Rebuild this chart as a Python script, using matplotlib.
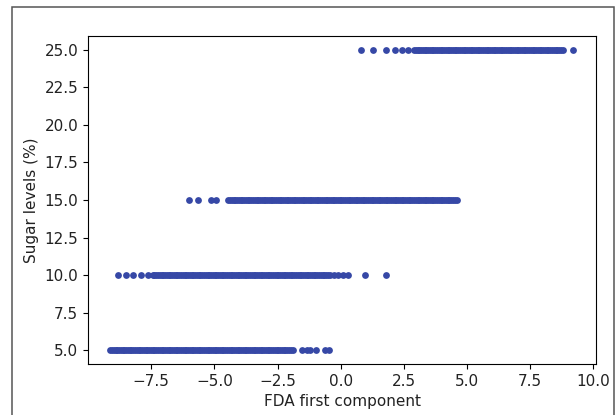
import matplotlib
matplotlib.use("Agg")
import matplotlib.pyplot as plt
import matplotlib.patches as patches

# FDA first component values, one list per sugar level (read off the picture;
# the solid-looking stretches are many samples packed close together)
x_sugar_25 = [0.80, 1.28, 1.79, 2.15, 2.42, 2.66,
              2.90, 2.97, 3.04, 3.11, 3.18, 3.25, 3.32, 3.39, 3.46, 3.53, 3.60,
              3.67, 3.74, 3.81, 3.88, 3.95, 4.02, 4.09, 4.16, 4.23, 4.30, 4.37,
              4.44, 4.51, 4.58, 4.65, 4.72, 4.79, 4.86, 4.93, 5.00, 5.07, 5.14,
              5.21, 5.28, 5.35, 5.42, 5.49, 5.56, 5.63, 5.70, 5.77, 5.84, 5.91,
              5.98, 6.05, 6.12, 6.19, 6.26, 6.33, 6.40, 6.47, 6.54, 6.61, 6.68,
              6.75, 6.82, 6.89, 6.96, 7.03, 7.10, 7.17, 7.24, 7.31, 7.38, 7.45,
              7.52, 7.59, 7.66, 7.73, 7.80, 7.87, 7.94, 8.01, 8.08, 8.15, 8.22,
              8.29, 8.36, 8.43, 8.50, 8.57, 8.64, 8.71, 8.79,
              9.18]
x_sugar_15 = [-6.00, -5.64, -5.13, -4.93,
              -4.45, -4.38, -4.31, -4.24, -4.17, -4.10, -4.03, -3.96, -3.89,
              -3.82, -3.75, -3.68, -3.61, -3.54, -3.47, -3.40, -3.33, -3.26,
              -3.19, -3.12, -3.05, -2.98, -2.91, -2.84, -2.77, -2.70, -2.63,
              -2.56, -2.49, -2.42, -2.35, -2.28, -2.21, -2.14, -2.07, -2.00,
              -1.93, -1.86, -1.79, -1.72, -1.65, -1.58, -1.51, -1.44, -1.37,
              -1.30, -1.23, -1.16, -1.09, -1.02, -0.95, -0.88, -0.81, -0.74,
              -0.67, -0.60, -0.53, -0.46, -0.39, -0.32, -0.25, -0.18, -0.11,
              -0.04, 0.03, 0.10, 0.17, 0.24, 0.31, 0.38, 0.45, 0.52, 0.59, 0.66,
              0.73, 0.80, 0.87, 0.94, 1.01, 1.08, 1.15, 1.22, 1.29, 1.36, 1.43,
              1.50, 1.57, 1.64, 1.71, 1.78, 1.85, 1.92, 1.99, 2.06, 2.13, 2.20,
              2.27, 2.34, 2.41, 2.48, 2.55, 2.62, 2.69, 2.76, 2.83, 2.90, 2.97,
              3.04, 3.11, 3.18, 3.25, 3.32, 3.39, 3.46, 3.53, 3.60, 3.67, 3.74,
              3.81, 3.88, 3.95, 4.02, 4.09, 4.16, 4.23, 4.30, 4.37, 4.44, 4.51,
              4.60]
x_sugar_10 = [-8.80, -8.49, -8.21, -7.89, -7.62,
              -7.44, -7.37, -7.30, -7.23, -7.16, -7.09, -7.02, -6.95, -6.88,
              -6.81, -6.74, -6.67, -6.60, -6.53, -6.46, -6.39, -6.32, -6.25,
              -6.18, -6.11, -6.04, -5.97, -5.90, -5.83, -5.76, -5.69, -5.62,
              -5.55, -5.48, -5.41, -5.34, -5.27, -5.20, -5.13, -5.06, -4.99,
              -4.92, -4.85, -4.78, -4.71, -4.64, -4.57, -4.50, -4.43, -4.36,
              -4.29, -4.22, -4.15, -4.08, -4.01, -3.94, -3.87, -3.80, -3.73,
              -3.66, -3.59, -3.52, -3.45, -3.38, -3.31, -3.24, -3.17, -3.10,
              -3.03, -2.96, -2.89, -2.82, -2.75, -2.68, -2.61, -2.54, -2.47,
              -2.40, -2.33, -2.26, -2.19, -2.12, -2.05, -1.98, -1.91, -1.84,
              -1.77, -1.70, -1.63, -1.56, -1.49, -1.42, -1.35, -1.28, -1.21,
              -1.14, -1.07, -1.00, -0.93, -0.86, -0.79, -0.72, -0.65, -0.58,
              -0.51, -0.42,
              -0.25, -0.11, 0.09, 0.29, 0.96, 1.79]
x_sugar_5 = [-9.12, -9.05, -8.98, -8.91, -8.84, -8.77, -8.70, -8.63, -8.56,
             -8.49, -8.42, -8.35, -8.28, -8.21, -8.14, -8.07, -8.00, -7.93,
             -7.86, -7.79, -7.72, -7.65, -7.58, -7.51, -7.44, -7.37, -7.30,
             -7.23, -7.16, -7.09, -7.02, -6.95, -6.88, -6.81, -6.74, -6.67,
             -6.60, -6.53, -6.46, -6.39, -6.32, -6.25, -6.18, -6.11, -6.04,
             -5.97, -5.90, -5.83, -5.76, -5.69, -5.62, -5.55, -5.48, -5.41,
             -5.34, -5.27, -5.20, -5.13, -5.06, -4.99, -4.92, -4.85, -4.78,
             -4.71, -4.64, -4.57, -4.50, -4.43, -4.36, -4.29, -4.22, -4.15,
             -4.08, -4.01, -3.94, -3.87, -3.80, -3.73, -3.66, -3.59, -3.52,
             -3.45, -3.38, -3.31, -3.24, -3.17, -3.10, -3.03, -2.96, -2.89,
             -2.82, -2.75, -2.68, -2.61, -2.54, -2.47, -2.40, -2.33, -2.26,
             -2.19, -2.12, -2.05, -1.98, -1.88,
             -1.53, -1.33, -1.20, -0.98, -0.62, -0.46]

levels = [25, 15, 10, 5]
groups = [x_sugar_25, x_sugar_15, x_sugar_10, x_sugar_5]

fig = plt.figure(figsize=(6.16, 4.15), dpi=100)

# grey frame round the figure, open at the bottom like the screenshot
frame = patches.Rectangle((12 / 616, -0.05), (614 - 12) / 616, 1 - 7 / 415 + 0.05,
                          transform=fig.transFigure, fill=False,
                          ec="#555555", lw=1.1)
fig.patches.append(frame)

ax = fig.add_axes([88 / 616, 1 - 364 / 415, (596 - 88) / 616, (364 - 36) / 415])

for lvl, xs in zip(levels, groups):
    ax.scatter(xs, [lvl] * len(xs), s=24, color="#3648a6", lw=0)

ax.set_xlim(-10.0, 10.1)
ax.set_ylim(4.07, 25.93)
ax.set_xticks([-7.5, -5.0, -2.5, 0.0, 2.5, 5.0, 7.5, 10.0])
ax.set_yticks([5.0, 7.5, 10.0, 12.5, 15.0, 17.5, 20.0, 22.5, 25.0])
ax.tick_params(labelsize=11, labelcolor="#222222")
ax.set_xlabel("FDA first component", fontsize=11, color="#222222")
ax.set_ylabel("Sugar levels (%)", fontsize=11, color="#222222")

fig.savefig("out.png", dpi=100)
